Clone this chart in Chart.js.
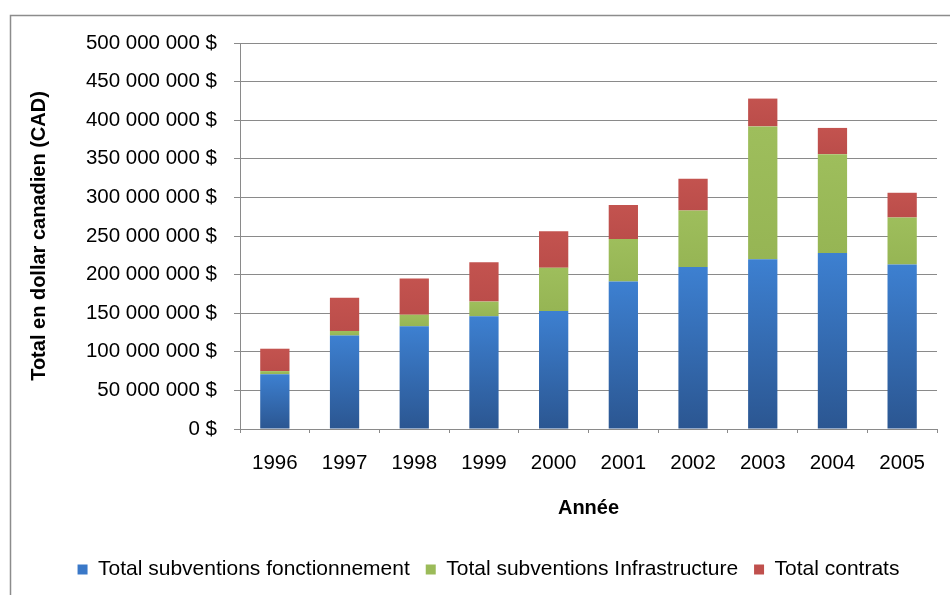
<!DOCTYPE html>
<html>
<head>
<meta charset="utf-8">
<script src="https://cdn.jsdelivr.net/npm/chart.js@4/dist/chart.umd.min.js"></script>
<style>
  html, body { margin: 0; padding: 0; background: #fff; }
  #wrap { width: 950px; height: 595px; }
</style>
</head>
<body>
<div id="wrap"><canvas id="c" width="950" height="595"></canvas></div>
<script>
const categories = ['1996','1997','1998','1999','2000','2001','2002','2003','2004','2005'];
const fonctionnement = [71000000,121000000,133000000,146000000,153000000,191000000,210000000,220000000,228000000,213000000];
const infrastructure = [4000000,6000000,15000000,19000000,56000000,55000000,73000000,172000000,128000000,61000000];
const contrats = [29000000,43000000,47000000,51000000,47000000,44000000,41000000,36000000,34000000,32000000];
const yTickLabels = ['0 $','50 000 000 $','100 000 000 $','150 000 000 $','200 000 000 $','250 000 000 $','300 000 000 $','350 000 000 $','400 000 000 $','450 000 000 $','500 000 000 $'];
const seriesNames = ['Total subventions fonctionnement','Total subventions Infrastructure','Total contrats'];

const FONT = "'Liberation Sans', Arial, sans-serif";
const GRID = '#8a8a8a';

function scriptedFill(light, dark, flat) {
  return function(context) {
    const chart = context.chart;
    if (context.type !== 'data') return flat;
    const ys = chart.scales && chart.scales.y;
    if (!ys || ys.getPixelForValue(0) === undefined) return flat;
    const dsets = chart.data.datasets;
    let base = 0;
    for (let i = 0; i < context.datasetIndex; i++) base += dsets[i].data[context.dataIndex];
    const top = ys.getPixelForValue(base + dsets[context.datasetIndex].data[context.dataIndex]);
    const bot = ys.getPixelForValue(base);
    if (!isFinite(top) || !isFinite(bot) || bot - top < 1) return flat;
    const g = chart.ctx.createLinearGradient(0, top, 0, bot);
    g.addColorStop(0, light);
    g.addColorStop(1, dark);
    return g;
  };
}

const bgPlugin = {
  id: 'bg',
  beforeDraw(chart) {
    const c = chart.ctx;
    c.save();
    c.fillStyle = '#fff';
    c.fillRect(0, 0, chart.width, chart.height);
    c.strokeStyle = '#8c8c8c';
    c.lineWidth = 1.5;
    c.strokeRect(10.5, 15.5, 960, 620);
    c.restore();
  }
};

const legendShift = {
  id: 'legendShift',
  afterLayout(chart) {
    if (chart.legend) { chart.legend.left += 15; chart.legend.right += 15; }
  }
};

new Chart(document.getElementById('c'), {
  type: 'bar',
  data: {
    labels: categories,
    datasets: [
      { label: seriesNames[0], data: fonctionnement, backgroundColor: scriptedFill('#3d80d1', '#2b5691', '#3a76c4'), borderWidth: 0 },
      { label: seriesNames[1], data: infrastructure, backgroundColor: scriptedFill('#9ebe5c', '#96b554', '#9bbb59'), borderWidth: 0 },
      { label: seriesNames[2], data: contrats, backgroundColor: scriptedFill('#c3534f', '#bb4d4a', '#c0504d'), borderWidth: 0 }
    ]
  },
  options: {
    responsive: false,
    animation: false,
    devicePixelRatio: 1,
    layout: { padding: { left: 10, right: 13, top: 43, bottom: 5 } },
    datasets: { bar: { barPercentage: 0.42, categoryPercentage: 1.0 } },
    plugins: {
      legend: {
        position: 'bottom',
        labels: {
          boxWidth: 10, boxHeight: 10, padding: 16,
          color: '#000',
          font: { family: FONT, size: 21 },
          generateLabels(chart) {
            const solid = ['#3a78c8', '#9bbb59', '#c0504d'];
            return chart.data.datasets.map((d, i) => ({
              text: d.label, fillStyle: solid[i], strokeStyle: solid[i], lineWidth: 0,
              hidden: false, datasetIndex: i, fontColor: '#000'
            }));
          }
        }
      },
      tooltip: { enabled: false }
    },
    scales: {
      x: {
        stacked: true,
        afterFit(scale) { scale.height = 114; },
        grid: { drawOnChartArea: false, drawTicks: true, tickLength: 4, color: GRID, offset: true },
        border: { color: GRID, width: 1 },
        ticks: { color: '#000', font: { family: FONT, size: 20.5 }, padding: 18, maxRotation: 0 },
        title: { display: true, text: 'Année', color: '#000', font: { family: FONT, size: 20, weight: 'bold' }, padding: { top: 0, bottom: 23 } }
      },
      y: {
        stacked: true,
        min: 0, max: 500000000,
        afterFit(scale) { scale.width = 230; },
        grid: { color: GRID, tickLength: 6, lineWidth: 1 },
        border: { color: GRID, width: 1 },
        ticks: {
          stepSize: 50000000,
          color: '#000',
          font: { family: FONT, size: 20.5 },
          padding: 17,
          callback(value, index) { return yTickLabels[index]; }
        },
        title: { display: true, text: 'Total en dollar canadien (CAD)', color: '#000', font: { family: FONT, size: 20, weight: 'bold' }, padding: { top: 17, bottom: 0 } }
      }
    }
  },
  plugins: [bgPlugin, legendShift]
});
</script>
</body>
</html>
